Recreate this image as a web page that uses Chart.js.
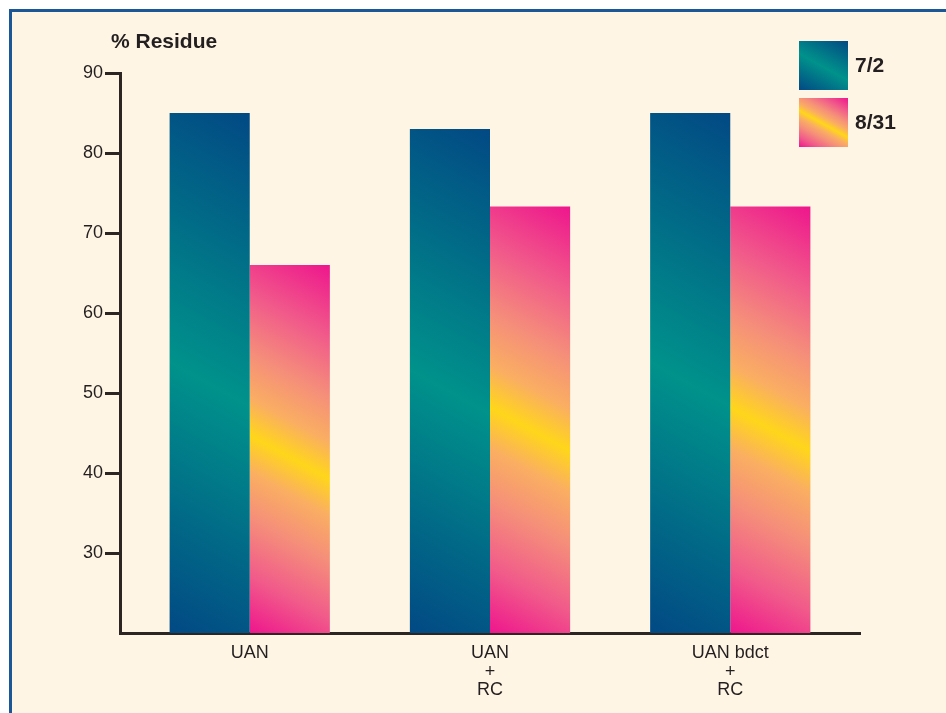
<!DOCTYPE html>
<html>
<head>
<meta charset="utf-8">
<script src="https://cdn.jsdelivr.net/npm/chart.js@4.4.1/dist/chart.umd.min.js"></script>
<style>
  html, body { margin: 0; padding: 0; background: #fff; width: 946px; height: 713px; overflow: hidden; }
  #frame { position: absolute; left: 9px; top: 9px; width: 1000px; height: 800px;
           border: 3px solid #1b5797; background: #fef5e4; }
  #chart { position: absolute; left: 0; top: 0; }
</style>
</head>
<body>
<div id="frame"></div>
<canvas id="chart" width="946" height="713"></canvas>
<script>
// values
const categories = ['UAN', ['UAN', '+', 'RC'], ['UAN bdct', '+', 'RC']];
const seriesNames = ['7/2', '8/31'];
const residueJul2 = [85, 83, 85];
const residueAug31 = [66, 73.3, 73.3];
const yTicks = [30, 40, 50, 60, 70, 80, 90];

const ink = '#231f20';
const axisInk = '#2b2624';
const fontFamily = '"Liberation Sans", Arial, Helvetica, sans-serif';

// colour stops of each diagonal gradient, dark corner -> middle -> dark corner
const barStops = [
  [[0, '#024984'], [0.48, '#00928b'], [1, '#024984']],
  [[0, '#ee168d'], [0.14, '#f15b8a'], [0.28, '#f58e7a'], [0.39, '#faae62'], [0.48, '#ffd61a'],
   [0.57, '#faae62'], [0.68, '#f58e7a'], [0.82, '#f15b8a'], [1, '#ee168d']]
];

function diagGradient(ctx, left, top, right, bottom, stops) {
  const ux = 0.482, uy = -0.876;
  const cx = (left + right) / 2, cy = (top + bottom) / 2;
  const h = Math.abs(ux) * (right - left) / 2 + Math.abs(uy) * (bottom - top) / 2;
  const g = ctx.createLinearGradient(cx - ux * h, cy - uy * h, cx + ux * h, cy + uy * h);
  stops.forEach(s => g.addColorStop(s[0], s[1]));
  return g;
}

const barPaint = {
  id: 'barPaint',
  beforeDatasetsDraw(chart) {
    const ctx = chart.ctx;
    const area = chart.chartArea;
    chart.data.datasets.forEach((ds, i) => {
      chart.getDatasetMeta(i).data.forEach(bar => {
        const p = bar.getProps(['x', 'y', 'base', 'width']);
        // bars run down to 0, the visible part stops at the axis
        const bottom = Math.min(Math.max(p.y, p.base), area.bottom);
        const g = diagGradient(ctx, p.x - p.width / 2, Math.min(p.y, p.base),
                               p.x + p.width / 2, bottom, barStops[i]);
        bar.options = Object.assign({}, bar.options, { backgroundColor: g });
      });
    });
  },
  afterDraw(chart) {
    const ctx = chart.ctx;
    ctx.save();
    ctx.fillStyle = ink;
    ctx.textBaseline = 'middle';
    ctx.textAlign = 'left';
    ctx.font = 'bold 21px ' + fontFamily;
    ctx.fillText('% Residue', 111, 42);

    // legend
    chart.data.datasets.forEach((ds, i) => {
      const x = 799, y = 41 + i * 57, s = 49;
      ctx.fillStyle = diagGradient(ctx, x, y, x + s, y + s, barStops[i]);
      ctx.fillRect(x, y, s, s);
      ctx.fillStyle = ink;
      ctx.fillText(ds.label, 855, y + 25);
    });
    ctx.restore();
  }
};

new Chart(document.getElementById('chart'), {
  type: 'bar',
  data: {
    datasets: [
      { label: seriesNames[0], data: residueJul2.map((v, i) => ({ x: i, y: v })) },
      { label: seriesNames[1], data: residueAug31.map((v, i) => ({ x: i, y: v })) }
    ]
  },
  options: {
    responsive: false,
    animation: false,
    devicePixelRatio: 1,
    layout: { padding: { top: 73, right: 86, left: 0, bottom: 0 } },
    datasets: {
      bar: { barPercentage: 1, categoryPercentage: 0.667, borderWidth: 0 }
    },
    plugins: {
      legend: { display: false },
      tooltip: { enabled: false }
    },
    scales: {
      x: {
        type: 'linear',
        offset: false,
        min: -0.54,
        max: 2.54,
        afterBuildTicks: s => { s.ticks = categories.map((c, i) => ({ value: i })); },
        afterFit: s => { s.height = 80; },
        grid: { display: false, drawTicks: false, offset: false },
        border: { display: true, color: axisInk, width: 3 },
        ticks: {
          callback: v => categories[v],
          color: ink,
          padding: 11,
          maxRotation: 0,
          autoSkip: false,
          font: { family: fontFamily, size: 18, lineHeight: 1.03 }
        }
      },
      y: {
        min: 20,
        max: 90,
        afterBuildTicks: s => { s.ticks = yTicks.map(v => ({ value: v })); },
        afterFit: s => { s.width = 120; },
        grid: { drawOnChartArea: false, drawTicks: true, tickLength: 15, lineWidth: 3, color: axisInk },
        border: { display: true, color: axisInk, width: 3 },
        ticks: {
          color: ink,
          padding: 2,
          font: { family: fontFamily, size: 18 }
        }
      }
    }
  },
  plugins: [barPaint]
});
</script>
</body>
</html>
